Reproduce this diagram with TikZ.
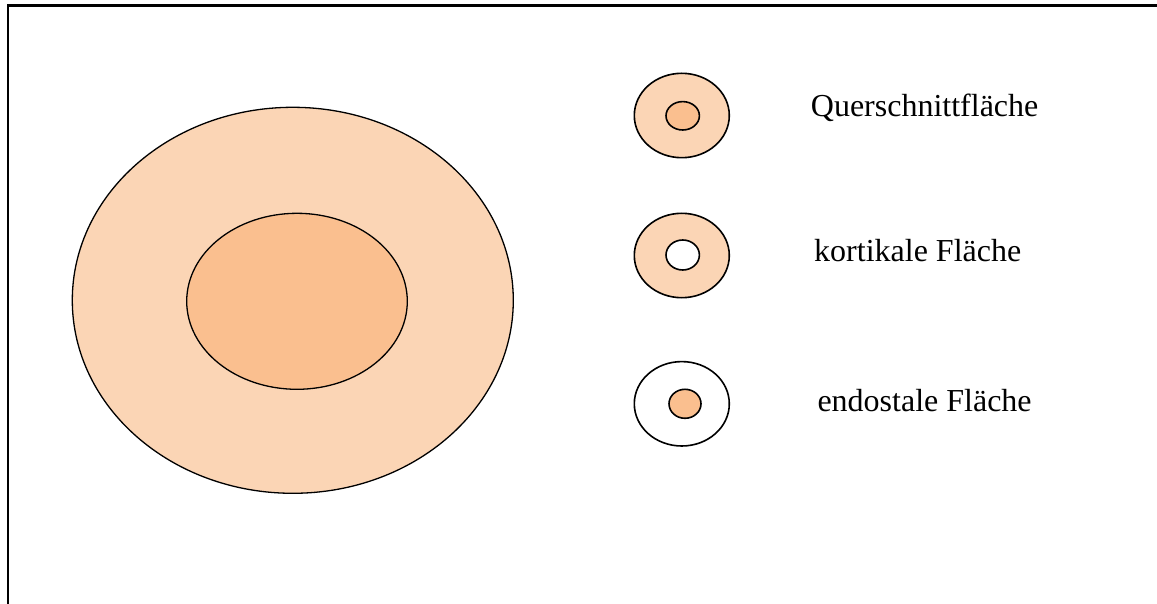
\documentclass[tikz,border=0pt]{standalone}
\usepackage{fontspec}
\setmainfont{Liberation Serif}
\definecolor{ringfill}{RGB}{251,213,181}
\definecolor{corefill}{RGB}{250,191,143}
\tikzset{
  bigline/.style={draw=black, line width=1.3pt},
  smallline/.style={draw=black, line width=1.6pt},
  label/.style={anchor=base west, inner sep=0pt, font=\fontsize{32}{38}\selectfont},
  frameline/.style={draw=black, line width=2.2pt}
}
\begin{document}
\begin{tikzpicture}[x=1pt, y=-1pt]
\useasboundingbox (0,0) rectangle (1157,604);
% frame (top and left edges only)
\coordinate (fbl) at (8,604);
\coordinate (ftl) at (8,5.5);
\coordinate (ftr) at (1157,5.5);
\draw[frameline] (fbl) -- (ftl) -- (ftr);
% large cross-section
\draw[bigline, fill=ringfill] (292.8,300.3) ellipse [x radius=220.5, y radius=193];
\draw[bigline, fill=corefill] (297,301.3) ellipse [x radius=110.3, y radius=88];
% legend symbols
\draw[smallline, fill=ringfill] (681.8,115.5) ellipse [x radius=47.5, y radius=42.2];
\draw[smallline, fill=corefill] (682.7,115.8) ellipse [x radius=16.7, y radius=14.2];
\draw[smallline, fill=ringfill] (681.8,255.5) ellipse [x radius=47.5, y radius=42.2];
\draw[smallline, fill=white] (682.7,255) ellipse [x radius=16.7, y radius=15];
\draw[smallline, fill=white] (681.8,403.8) ellipse [x radius=47.5, y radius=42.2];
\draw[smallline, fill=corefill] (685,403.8) ellipse [x radius=16, y radius=14.5];
% labels
\node[label] (q) at (810.7,116.7) {Querschnittfläche};
\node[label] (k) at (814,261.7) {kortikale Fläche};
\node[label] (e) at (817.3,411.7) {endostale Fläche};
\end{tikzpicture}
\end{document}
